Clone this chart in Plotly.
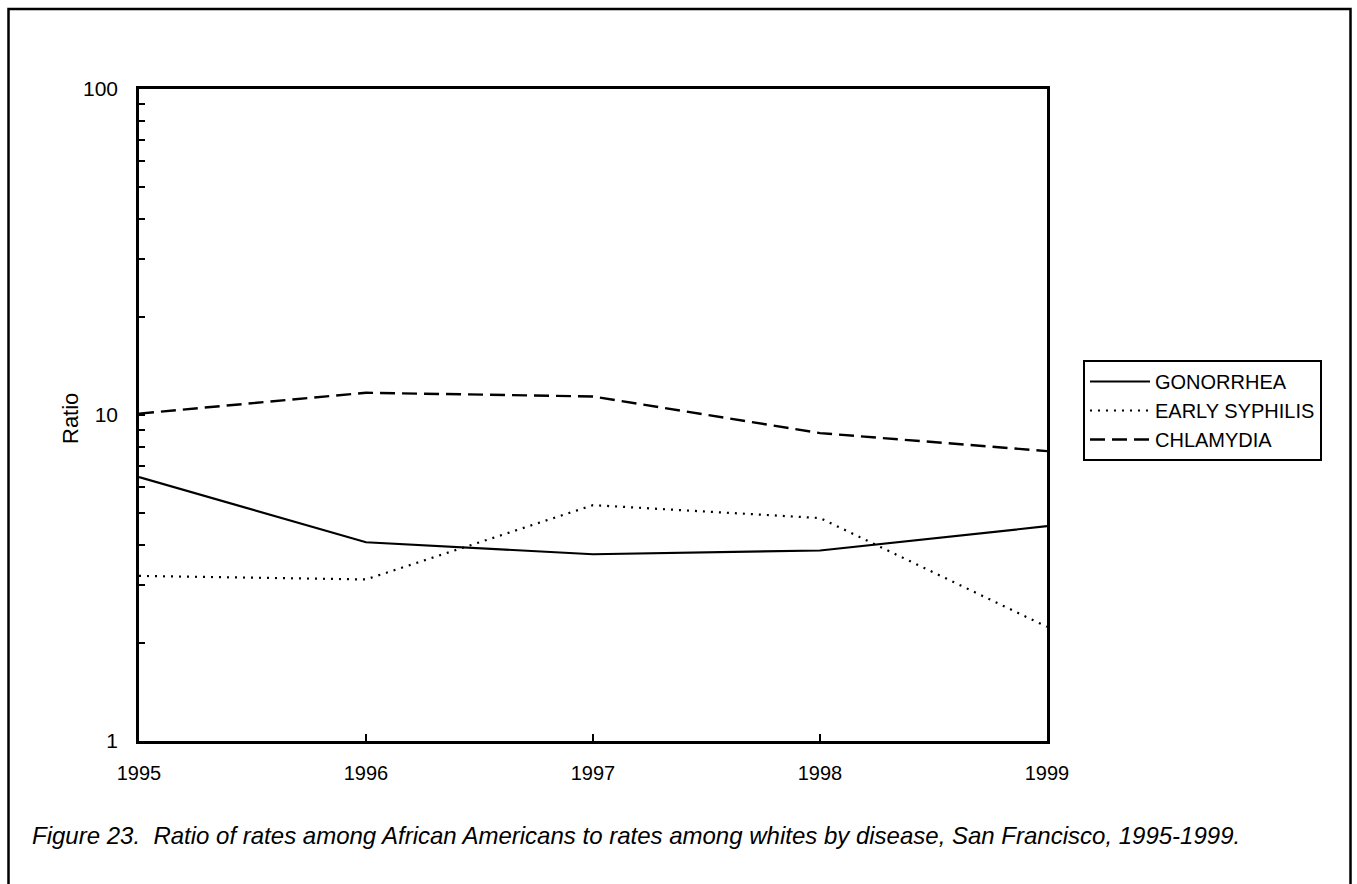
import plotly.graph_objects as go

years = [1995, 1996, 1997, 1998, 1999]
gonorrhea = [6.45, 4.07, 3.74, 3.84, 4.56]
early_syphilis = [3.21, 3.13, 5.29, 4.83, 2.24]
chlamydia = [10.1, 11.7, 11.4, 8.8, 7.75]

y_tick_vals = [1, 2, 3, 4, 5, 6, 7, 8, 9, 10, 20, 30, 40, 50, 60, 70, 80, 90, 100]
y_tick_text = ["1", "", "", "", "", "", "", "", "", "10", "", "", "", "", "", "", "", "", "100"]

FONT = "Liberation Sans, Arial, sans-serif"

fig = go.Figure()
fig.add_trace(go.Scatter(x=years, y=gonorrhea, mode="lines", name="GONORRHEA",
                         line=dict(color="black", width=2.2, dash="solid")))
fig.add_trace(go.Scatter(x=years, y=early_syphilis, mode="lines", name="EARLY SYPHILIS",
                         line=dict(color="black", width=2.2, dash="2px,6px")))
fig.add_trace(go.Scatter(x=years, y=chlamydia, mode="lines", name="CHLAMYDIA",
                         line=dict(color="black", width=2.4, dash="15px,7px")))

L, R, T, B = 139, 1047, 89, 741
W, H = 1357, 884
pw, ph = R - L, B - T


def px_x(x):
    return (x - L) / pw


def px_y(y):
    return (B - y) / ph


fig.update_layout(
    width=W, height=H,
    margin=dict(l=L, r=W - R, t=T, b=H - B, pad=0),
    paper_bgcolor="white", plot_bgcolor="white",
    font=dict(family=FONT, size=20, color="black"),
    showlegend=True,
    legend=dict(
        x=px_x(1083), y=px_y(360), xanchor="left", yanchor="top",
        bordercolor="black", borderwidth=2, bgcolor="white",
        font=dict(family=FONT, size=20, color="black"),
        tracegroupgap=0, itemwidth=60,
    ),
    xaxis=dict(
        range=[1995, 1999], tickvals=years, ticktext=[str(y) for y in years],
        ticks="inside", ticklen=7, tickwidth=2, tickcolor="black",
        showline=True, linecolor="black", linewidth=2.5, mirror=True,
        showgrid=False, zeroline=False, ticklabelstandoff=12,
        tickfont=dict(family=FONT, size=20),
    ),
    yaxis=dict(
        type="log", range=[0, 2], tickvals=y_tick_vals, ticktext=y_tick_text,
        ticks="inside", ticklen=6, tickwidth=2, tickcolor="black",
        showline=True, linecolor="black", linewidth=2.5, mirror=True,
        showgrid=False, zeroline=False, ticklabelstandoff=14,
        tickfont=dict(family=FONT, size=21),
    ),
    shapes=[dict(type="rect", xref="paper", yref="paper",
                 x0=px_x(8.5), x1=px_x(1350.5), y0=px_y(900), y1=px_y(9),
                 line=dict(color="black", width=2.5), fillcolor="rgba(0,0,0,0)",
                 layer="below")],
    annotations=[
        dict(text="Ratio", xref="paper", yref="paper", x=px_x(70), y=px_y(419),
             textangle=-90, showarrow=False, xanchor="center", yanchor="middle",
             font=dict(family=FONT, size=22)),
        dict(text="Figure 23.  Ratio of rates among African Americans to rates among whites by disease, San Francisco, 1995-1999.",
             xref="paper", yref="paper", x=px_x(30), y=px_y(835), showarrow=False,
             xanchor="left", yanchor="middle",
             font=dict(family=FONT, size=24, style="italic")),
    ],
)

fig.write_html("out.html")
